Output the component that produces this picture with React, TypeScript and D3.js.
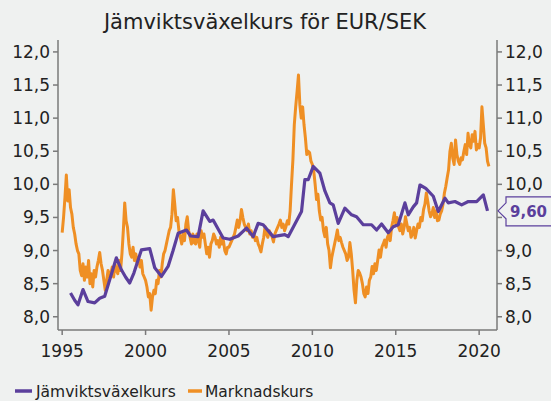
import * as d3 from "d3";

// Marknadskurs, månadsvärden jan 1995 - aug 2020
const marketStart = 1995;
const marketValues = [
  // 1995
  9.27, 9.5, 9.8, 10.14, 9.75, 9.92, 9.65, 9.55, 9.35, 9.25, 9.1, 9.0,
  // 1996
  8.95, 8.7, 8.62, 8.8, 8.55, 8.75, 8.6, 8.85, 8.5, 8.65, 8.45, 8.7,
  // 1997
  8.6, 8.75, 8.85, 8.97, 8.8, 8.7, 8.55, 8.4, 8.55, 8.7, 8.6, 8.65,
  // 1998
  8.75, 8.6, 8.8, 8.7, 8.65, 8.85, 8.7, 8.95, 9.3, 9.72, 9.45, 9.35,
  // 1999
  9.1, 8.95, 8.9, 9.05, 8.85, 8.95, 8.8, 8.9, 8.75, 8.85, 8.65, 8.6,
  // 2000
  8.55, 8.45, 8.3, 8.35, 8.1, 8.3, 8.4, 8.35, 8.55, 8.5, 8.7, 8.6,
  // 2001
  8.8, 8.95, 9.0, 9.1, 9.2, 9.3, 9.35, 9.55, 9.92, 9.7, 9.45, 9.5,
  // 2002
  9.3, 9.2, 9.1, 9.25, 9.15, 9.4, 9.51, 9.3, 9.2, 9.1, 9.25, 9.12,
  // 2003
  9.1, 9.25, 9.15, 9.05, 9.3, 9.2, 9.25, 9.1, 8.95, 9.05, 8.9, 9.1,
  // 2004
  9.15, 9.25, 9.2, 9.1, 9.15, 9.05, 9.2, 9.1, 9.15, 9.0, 8.95, 9.05,
  // 2005
  9.05, 9.1, 9.15, 9.2, 9.25, 9.35, 9.46, 9.35, 9.45, 9.62, 9.5, 9.4,
  // 2006
  9.35, 9.3, 9.4, 9.25, 9.3, 9.2, 9.25, 9.15, 9.2, 9.1, 9.05, 8.98,
  // 2007
  9.1, 9.2, 9.36, 9.25, 9.2, 9.3, 9.25, 9.21, 9.13, 9.25, 9.3, 9.35,
  // 2008
  9.4, 9.46, 9.35, 9.4, 9.3, 9.36, 9.45, 9.4, 9.6, 10.0, 10.37, 10.9,
  // 2009
  11.17, 11.4, 11.65, 11.2, 11.0, 11.17, 10.9, 10.7, 10.45, 10.5, 10.48, 10.35,
  // 2010
  10.3, 10.2, 10.0, 9.77, 9.85, 9.6, 9.46, 9.5, 9.3, 9.21, 9.35, 9.1,
  // 2011
  9.0, 8.74, 8.9, 9.0, 9.1, 9.2, 9.31, 9.15, 9.2, 9.12, 9.05, 9.0,
  // 2012
  8.95, 8.85, 8.9, 9.12, 8.95, 8.7, 8.4, 8.21, 8.55, 8.7, 8.66, 8.6,
  // 2013
  8.5, 8.35, 8.3, 8.45, 8.35, 8.55, 8.6, 8.76, 8.65, 8.8, 8.7, 8.85,
  // 2014
  9.01, 8.9, 9.05, 9.1, 9.16, 9.05, 9.2, 9.25, 9.15, 9.35, 9.45, 9.57,
  // 2015
  9.4, 9.5, 9.36, 9.3, 9.4, 9.25, 9.35, 9.51, 9.4, 9.3, 9.35, 9.2,
  // 2016
  9.25, 9.35, 9.19, 9.3, 9.4, 9.35, 9.5, 9.45, 9.62, 9.7, 9.87, 9.75,
  // 2017
  9.6, 9.51, 9.55, 9.65, 9.5, 9.6, 9.45, 9.46, 9.55, 9.6, 9.7, 9.87,
  // 2018
  9.97, 10.1, 10.22, 10.5, 10.62, 10.4, 10.3, 10.67, 10.45, 10.35, 10.3, 10.4,
  // 2019
  10.37, 10.5, 10.6, 10.45, 10.77, 10.6, 10.55, 10.75, 10.65, 10.8, 10.52, 10.6,
  // 2020
  10.55, 10.7, 11.17, 10.9, 10.62, 10.55, 10.35, 10.27,
];

// Jämviktsväxelkurs, ungefär kvartalsvis
const eqDates = [
  1995.5, 1995.75, 1995.95, 1996.25, 1996.55, 1996.95, 1997.25, 1997.55, 1998.25,
  1998.55, 1998.8, 1999.05, 1999.3, 1999.75, 2000.25, 2000.55, 2000.95, 2001.35,
  2001.65, 2001.95, 2002.45, 2002.7, 2003.15, 2003.45, 2003.85, 2004.05, 2004.65,
  2005.05, 2005.55, 2006.05, 2006.45, 2006.75, 2007.05, 2007.65, 2008.35, 2008.55,
  2009.35, 2009.55, 2009.75, 2010.05, 2010.45, 2010.75, 2011.05, 2011.25, 2011.55,
  2011.95, 2012.35, 2012.65, 2013.05, 2013.55, 2013.85, 2014.15, 2014.55, 2014.85,
  2015.15, 2015.55, 2015.75, 2016.05, 2016.25, 2016.45, 2016.8, 2017.25, 2017.55,
  2017.95, 2018.15, 2018.55, 2018.95, 2019.35, 2019.85, 2020.25, 2020.5,
];
const eqValues = [
  8.36, 8.25, 8.18, 8.41, 8.23, 8.21, 8.28, 8.31, 8.89,
  8.71, 8.6, 8.51, 8.66, 9.01, 9.03, 8.74, 8.61, 8.76,
  9.0, 9.26, 9.31, 9.22, 9.21, 9.6, 9.44, 9.46, 9.19,
  9.17, 9.22, 9.34, 9.21, 9.41, 9.39, 9.21, 9.24, 9.21,
  9.59, 10.07, 10.07, 10.27, 10.17, 9.9, 9.72, 9.69, 9.41,
  9.64, 9.54, 9.51, 9.39, 9.39, 9.31, 9.4, 9.27, 9.36,
  9.39, 9.72, 9.54, 9.66, 9.72, 9.99, 9.94, 9.82, 9.59,
  9.79, 9.72, 9.74, 9.69, 9.74, 9.74, 9.84, 9.6,
];

const yearTicks = [1995, 2000, 2005, 2010, 2015, 2020];
const valueTicks = [8.0, 8.5, 9.0, 9.5, 10.0, 10.5, 11.0, 11.5, 12.0];
const seriesNames = ["Jämviktsväxelkurs", "Marknadskurs"];

const PURPLE = "#5b3f9c";
const ORANGE = "#ef8f24";
const BG = "#eff1f0";
const AXIS = "#7a7a7a";
const TEXT = "#222";
const FONT = "'DejaVu Sans', sans-serif";

const fmt = (v: number, d: number) => v.toFixed(d).replace(".", ",");

export default function App() {
  const width = 551;
  const height = 401;
  const left = 58;
  const right = 497;
  const top = 40;
  const bottom = 330;

  const x = d3.scaleLinear().domain([1994.75, 2021.07]).range([left, right]);
  const y = d3.scaleLinear().domain([7.8, 12.18]).range([bottom, top]);

  const market = marketValues.map((v, i) => ({ t: marketStart + i / 12, v }));
  const eq = eqDates.map((t, i) => ({ t, v: eqValues[i] }));

  const line = d3
    .line<{ t: number; v: number }>()
    .x((d) => x(d.t))
    .y((d) => y(d.v));

  const last = eq[eq.length - 1];
  const ly = y(last.v);
  const lx = right + 1;

  // högeraxelns etikett som döljs av rutan för senaste värdet
  const rightTicks = valueTicks.filter((v) => Math.abs(y(v) - ly) > 14);

  return (
    <svg
      width={width}
      height={height}
      style={{ position: "absolute", left: 0, top: 0, fontFamily: FONT }}
    >
      <rect width={width} height={height} fill={BG} />
      <text x={265} y={29} textAnchor="middle" fontSize={21} fill={TEXT}>
        Jämviktsväxelkurs för EUR/SEK
      </text>

      {/* serier */}
      <path d={line(market) ?? ""} fill="none" stroke={ORANGE} strokeWidth={3} strokeLinejoin="round" />
      <path d={line(eq) ?? ""} fill="none" stroke={PURPLE} strokeWidth={3.2} strokeLinejoin="round" />

      {/* axlar */}
      <g stroke={AXIS} strokeWidth={1.5} fill="none">
        <line x1={left} x2={left} y1={top} y2={bottom} />
        <line x1={right} x2={right} y1={top} y2={bottom} />
        <line x1={left} x2={right} y1={bottom} y2={bottom} />
        {valueTicks.map((v) => (
          <g key={v}>
            <line x1={left - 5} x2={left} y1={y(v)} y2={y(v)} />
            <line x1={right} x2={right + 5} y1={y(v)} y2={y(v)} />
          </g>
        ))}
        {yearTicks.map((t) => (
          <line key={t} x1={x(t)} x2={x(t)} y1={bottom} y2={bottom + 5} />
        ))}
      </g>
      <g fontSize={17} fill={TEXT}>
        {valueTicks.map((v) => (
          <text key={v} x={left - 8} y={y(v) + 6} textAnchor="end">
            {fmt(v, 1)}
          </text>
        ))}
        {rightTicks.map((v) => (
          <text key={v} x={right + 8} y={y(v) + 6}>
            {fmt(v, 1)}
          </text>
        ))}
        {yearTicks.map((t) => (
          <text key={t} x={x(t)} y={357} textAnchor="middle">
            {t}
          </text>
        ))}
      </g>

      {/* senaste värde */}
      <path
        d={`M${lx},${ly} L${lx + 8},${ly - 8} L${lx + 8},${ly - 14} L${width + 2},${ly - 14} L${width + 2},${ly + 15} L${lx + 8},${ly + 15} L${lx + 8},${ly + 8} Z`}
        fill={BG}
        stroke={PURPLE}
        strokeWidth={1.2}
      />
      <text x={lx + 12} y={ly + 6} fontSize={15} fontWeight="bold" fill={PURPLE}>
        {fmt(last.v, 2)}
      </text>

      {/* legend */}
      <g fontSize={15.5} fill={TEXT}>
        <line x1={15} x2={32} y1={391} y2={391} stroke={PURPLE} strokeWidth={3.5} />
        <text x={36} y={397}>{seriesNames[0]}</text>
        <line x1={188} x2={202} y1={391} y2={391} stroke={ORANGE} strokeWidth={3.5} />
        <text x={205} y={397}>{seriesNames[1]}</text>
      </g>
    </svg>
  );
}
